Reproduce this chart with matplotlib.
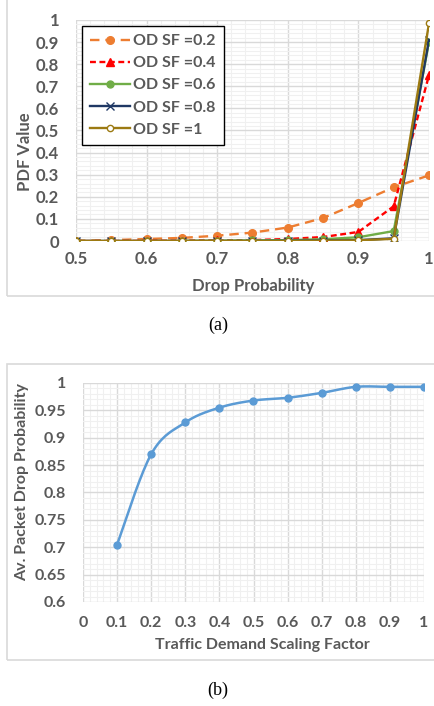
import numpy as np
import matplotlib
matplotlib.use("Agg")
import matplotlib.pyplot as plt
from matplotlib.patches import Rectangle
from matplotlib.ticker import MultipleLocator, FuncFormatter

# ---- data: panel (a) ----
drop_prob = [0.5, 0.55, 0.6, 0.65, 0.7, 0.75, 0.8, 0.85, 0.9, 0.95, 1.0]
pdf_sf02 = [0.002, 0.004, 0.009, 0.014, 0.024, 0.038, 0.061, 0.104, 0.172, 0.243, 0.297]
pdf_sf04 = [0.0, 0.0, 0.001, 0.002, 0.003, 0.004, 0.009, 0.018, 0.041, 0.157, 0.75]
pdf_sf06 = [0.0, 0.0, 0.0, 0.001, 0.002, 0.003, 0.004, 0.008, 0.017, 0.045, 0.90]
pdf_sf08 = [0.0, 0.0, 0.0, 0.0, 0.0, 0.0, 0.001, 0.002, 0.004, 0.012, 0.91]
pdf_sf1 = [0.0, 0.0, 0.0, 0.0, 0.0, 0.0, 0.0, 0.001, 0.003, 0.01, 0.985]
series_labels = ["OD SF =0.2", "OD SF =0.4", "OD SF =0.6", "OD SF =0.8", "OD SF =1"]

# ---- data: panel (b) ----
scaling = [0.1, 0.2, 0.3, 0.4, 0.5, 0.6, 0.7, 0.8, 0.9, 1.0]
avg_drop = [0.705, 0.87, 0.928, 0.955, 0.968, 0.973, 0.982, 0.993, 0.993, 0.993]

GRAY = "#595959"
FONT = "Lato"


def smooth(x, y, n=20):
    # Catmull-Rom curve through the points (like Excel's smoothed line)
    x = np.asarray(x, float)
    y = np.asarray(y, float)
    px = np.concatenate([[x[0]], x, [x[-1]]])
    py = np.concatenate([[y[0]], y, [y[-1]]])
    xs, ys = [], []
    t = np.linspace(0, 1, n)
    for i in range(1, len(px) - 2):
        for p, out in ((px, xs), (py, ys)):
            p0, p1, p2, p3 = p[i - 1], p[i], p[i + 1], p[i + 2]
            out.extend(0.5 * (2 * p1 + (-p0 + p2) * t
                              + (2 * p0 - 5 * p1 + 4 * p2 - p3) * t ** 2
                              + (-p0 + 3 * p1 - 3 * p2 + p3) * t ** 3))
    return xs, ys


def style_axes(ax, size, xpad, ypad):
    for s in ax.spines.values():
        s.set_visible(False)
    ax.grid(which="major", color="#D9D9D9", lw=1.0, zorder=0)
    ax.grid(which="minor", color="#F0F0F0", lw=0.8, zorder=0)
    ax.set_axisbelow(True)
    ax.tick_params(which="both", length=0)
    ax.tick_params(axis="x", pad=xpad)
    ax.tick_params(axis="y", pad=ypad)
    for lab in ax.get_xticklabels() + ax.get_yticklabels():
        lab.set_fontfamily(FONT)
        lab.set_fontweight("bold")
        lab.set_color(GRAY)
        lab.set_fontsize(size)


def put_labels(ax, xlabel, ylabel, size, xpos, ypos):
    ax.set_xlabel(xlabel, fontfamily=FONT, fontweight="bold", color=GRAY, fontsize=size)
    ax.set_ylabel(ylabel, fontfamily=FONT, fontweight="bold", color=GRAY, fontsize=size)
    ax.xaxis.set_label_coords(*xpos)
    ax.yaxis.set_label_coords(*ypos)
    ax.xaxis.label.set_verticalalignment("center")
    ax.yaxis.label.set_verticalalignment("center")


fig = plt.figure(figsize=(4.35, 7.06), dpi=100)

# panel frames
fig.patches.append(Rectangle((7 / 435, 1 - 296 / 706), 1.0, 0.5, transform=fig.transFigure,
                             fill=False, ec="#D9D9D9", lw=1.2))
fig.patches.append(Rectangle((7 / 435, 1 - 660 / 706), 1.0, 296 / 706, transform=fig.transFigure,
                             fill=False, ec="#D9D9D9", lw=1.2))

# ---- panel (a) ----
ax1 = fig.add_axes([76 / 435, 1 - 241 / 706, 353 / 435, 221 / 706])
ax1.plot(drop_prob, pdf_sf02, color="#ED7D31", ls=(0, (4, 2.5)), lw=1.7,
         marker="o", ms=5.5, label=series_labels[0], zorder=3)
ax1.plot(drop_prob, pdf_sf04, color="#FF0000", ls=(0, (2.5, 1.5)), lw=1.7,
         marker="^", ms=5.5, label=series_labels[1], zorder=4)
ax1.plot(drop_prob, pdf_sf06, color="#70AD47", ls="-", lw=1.7,
         marker="o", ms=5, label=series_labels[2], zorder=5)
ax1.plot(drop_prob, pdf_sf08, color="#1F3864", ls="-", lw=1.7,
         marker="x", ms=5.5, mew=1.0, label=series_labels[3], zorder=6)
ax1.plot(drop_prob, pdf_sf1, color="#9C7A12", ls="-", lw=1.7,
         marker="o", ms=4.5, mfc="white", mec="#9C7A12", label=series_labels[4], zorder=7)
ax1.set_xlim(0.5, 1.0)
ax1.set_ylim(0, 1.0)
ax1.xaxis.set_major_locator(MultipleLocator(0.1))
ax1.xaxis.set_minor_locator(MultipleLocator(0.02))
ax1.yaxis.set_major_locator(MultipleLocator(0.1))
ax1.yaxis.set_minor_locator(MultipleLocator(0.02))
ax1.xaxis.set_major_formatter(FuncFormatter(lambda v, p: f"{round(v, 2):g}"))
ax1.yaxis.set_major_formatter(FuncFormatter(lambda v, p: f"{round(v, 2):g}"))
style_axes(ax1, 12, xpad=7, ypad=12)
put_labels(ax1, "Drop Probability", "PDF Value", 12, (0.501, -0.204), (-0.1445, 0.405))
leg = ax1.legend(loc="upper left", bbox_to_anchor=(0.017, 0.973), borderaxespad=0,
                 fancybox=False, edgecolor="black", framealpha=1, handlelength=2.5,
                 labelspacing=0.5, borderpad=0.5, handletextpad=0.2,
                 prop={"family": FONT, "weight": "bold", "size": 11.5})
leg.get_frame().set_linewidth(1.0)
for t in leg.get_texts():
    t.set_color(GRAY)

fig.text(218 / 435, 1 - 325 / 706, "(a)", ha="center", va="center",
         fontfamily="Liberation Serif", fontsize=13)

# ---- panel (b) ----
ax2 = fig.add_axes([83 / 435, 1 - 602 / 706, 341 / 435, 219 / 706])
sx, sy = smooth(scaling, avg_drop)
ax2.plot(sx, sy, color="#5B9BD5", lw=1.8, zorder=3)
ax2.plot(scaling, avg_drop, ls="none", marker="o", ms=5, color="#5B9BD5", zorder=4)
ax2.set_xlim(0, 1.0)
ax2.set_ylim(0.6, 1.0)
ax2.xaxis.set_major_locator(MultipleLocator(0.1))
ax2.xaxis.set_minor_locator(MultipleLocator(0.02))
ax2.yaxis.set_major_locator(MultipleLocator(0.05))
ax2.yaxis.set_minor_locator(MultipleLocator(0.01))
ax2.xaxis.set_major_formatter(FuncFormatter(lambda v, p: f"{round(v, 2):g}"))
ax2.yaxis.set_major_formatter(FuncFormatter(lambda v, p: f"{round(v, 2):g}"))
style_axes(ax2, 11.5, xpad=10, ypad=12)
put_labels(ax2, "Traffic Demand Scaling Factor", "Av. Packet Drop Probability", 11.5,
           (0.526, -0.196), (-0.179, 0.55))

fig.text(218 / 435, 1 - 690 / 706, "(b)", ha="center", va="center",
         fontfamily="Liberation Serif", fontsize=13)

fig.savefig("out.png", dpi=100)
